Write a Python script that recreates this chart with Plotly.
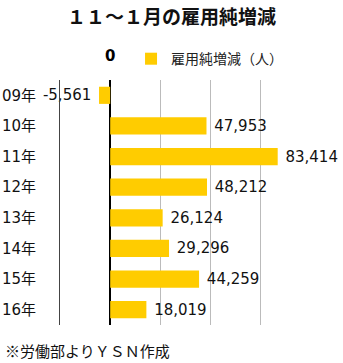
import plotly.graph_objects as go

categories = ["09年", "10年", "11年", "12年", "13年", "14年", "15年", "16年"]
values = [-5561, 47953, 83414, 48212, 26124, 29296, 44259, 18019]
labels = ["-5,561", "47,953", "83,414", "48,212", "26,124", "29,296", "44,259", "18,019"]
series_name = "雇用純増減（人）"
title = "１１～１月の雇用純増減"
note = "※労働部よりＹＳＮ作成"

FONT = "Noto Sans CJK JP, Hiragino Sans, sans-serif"
NUMFONT = "DejaVu Sans, Noto Sans CJK JP, sans-serif"

templates = ["%{text}\u00a0" if v < 0 else "\u00a0%{text}" for v in values]

fig = go.Figure()
fig.add_trace(go.Bar(
    y=categories, x=values, orientation="h", name=series_name,
    marker=dict(color="#FFCC00", line=dict(width=0)),
    text=labels, texttemplate=templates, textposition="outside",
    cliponaxis=False, constraintext="none",
    textfont=dict(size=15, color="#111", family=NUMFONT),
    hoverinfo="skip",
))

fig.update_layout(
    width=343, height=363,
    margin=dict(l=60, r=32, t=80, b=38),
    paper_bgcolor="white", plot_bgcolor="white",
    font=dict(family=FONT, size=15, color="#111"),
    bargap=0.44,
    showlegend=True,
    legend=dict(x=0.283, y=1.02, xanchor="left", yanchor="bottom",
                orientation="h", font=dict(size=14, color="#222"),
                bgcolor="rgba(0,0,0,0)", itemwidth=30),
    title=dict(text=title, x=0.5, xanchor="center", y=0.97, yanchor="top",
               font=dict(size=19, color="#111", family=FONT, weight=600)),
    xaxis=dict(range=[-25000, 100000], tickvals=[-25000, 0, 25000, 50000, 75000, 100000],
               showticklabels=False, showgrid=True, gridcolor="#bbbbbb", gridwidth=1,
               zeroline=True, zerolinecolor="#000", zerolinewidth=2, fixedrange=True,
               automargin=False),
    yaxis=dict(categoryorder="array", categoryarray=categories, autorange="reversed",
               showgrid=False, showline=True, linecolor="#444", linewidth=1,
               ticks="", ticklabelstandoff=20,
               tickfont=dict(size=15, color="#111", family=NUMFONT),
               automargin=False),
)

fig.add_annotation(x=0, y=1, xref="x", yref="paper", yanchor="bottom", yshift=13,
                   text="<b>0</b>", showarrow=False,
                   font=dict(size=15, color="#000", family=NUMFONT))
fig.add_annotation(x=0, y=0, xref="paper", yref="paper", xanchor="left", yanchor="top",
                   xshift=-57, yshift=-13, text=note, showarrow=False,
                   font=dict(size=15, color="#111"))

fig.write_html("out.html")
